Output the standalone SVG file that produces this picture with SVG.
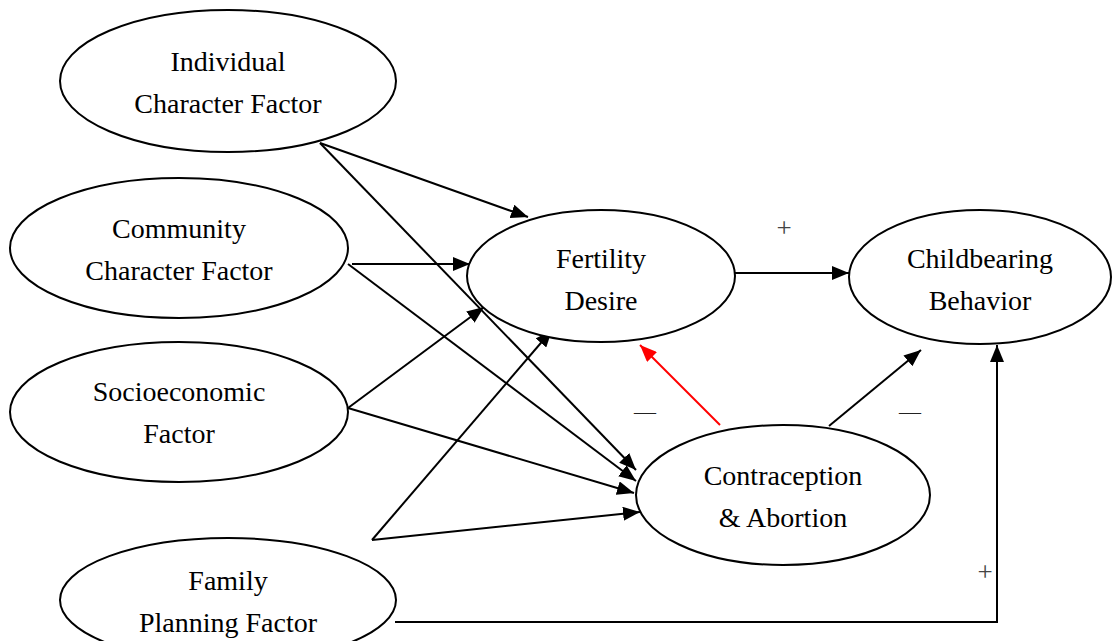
<svg xmlns="http://www.w3.org/2000/svg" width="1113" height="641" viewBox="0 0 1113 641">
<style>
.node ellipse{fill:#fff;stroke:#000;stroke-width:2}
.node text{font-size:28px;fill:#000;text-anchor:middle}
.edge{fill:none;stroke:#000;stroke-width:2}
.red{stroke:#f00}
.plus{font-size:27px;fill:#444;text-anchor:middle}
.minus{font-size:22px;fill:#222;text-anchor:middle}
</style>
<defs>
<marker id="ah" markerUnits="userSpaceOnUse" markerWidth="18" markerHeight="14" refX="17" refY="7" orient="auto"><path d="M0,0 L17,7 L0,14 Z" fill="#000"/></marker>
<marker id="ahr" markerUnits="userSpaceOnUse" markerWidth="18" markerHeight="14" refX="17" refY="7" orient="auto"><path d="M0,0 L17,7 L0,14 Z" fill="#f00"/></marker>
</defs>
<g id="connectors">
<line class="edge" x1="320" y1="143" x2="528" y2="217" marker-end="url(#ah)"/>
<line class="edge" x1="320" y1="143" x2="636" y2="470" marker-end="url(#ah)"/>
<line class="edge" x1="352" y1="264" x2="470" y2="264" marker-end="url(#ah)"/>
<line class="edge" x1="348" y1="264" x2="636" y2="481" marker-end="url(#ah)"/>
<line class="edge" x1="348" y1="408" x2="484" y2="307" marker-end="url(#ah)"/>
<line class="edge" x1="348" y1="408" x2="634" y2="493" marker-end="url(#ah)"/>
<line class="edge" x1="372" y1="540" x2="552" y2="330" marker-end="url(#ah)"/>
<line class="edge" x1="372" y1="540" x2="640" y2="512" marker-end="url(#ah)"/>
<line class="edge" x1="735" y1="273" x2="849" y2="273" marker-end="url(#ah)"/>
<line class="edge red" x1="720" y1="425" x2="640" y2="345" marker-end="url(#ahr)"/>
<line class="edge" x1="829" y1="426" x2="921" y2="350" marker-end="url(#ah)"/>
<polyline class="edge" points="395,622 997,622 997,345" marker-end="url(#ah)"/>
</g>
<g font-family="'Liberation Serif', 'Times New Roman', Times, serif">
<g id="n-individual" class="node"><ellipse cx="228" cy="81" rx="168" ry="71"/><text x="228" y="71">Individual</text><text x="228" y="113">Character Factor</text></g>
<g id="n-community" class="node"><ellipse cx="179" cy="248" rx="169" ry="70"/><text x="179" y="238">Community</text><text x="179" y="280">Character Factor</text></g>
<g id="n-socio" class="node"><ellipse cx="179" cy="412" rx="169" ry="70"/><text x="179" y="401">Socioeconomic</text><text x="179" y="443">Factor</text></g>
<g id="n-family" class="node"><ellipse cx="228" cy="600" rx="168" ry="62"/><text x="228" y="590">Family</text><text x="228" y="632">Planning Factor</text></g>
<g id="n-fertility" class="node"><ellipse cx="601" cy="276" rx="134" ry="66"/><text x="601" y="268">Fertility</text><text x="601" y="310">Desire</text></g>
<g id="n-childbearing" class="node"><ellipse cx="980" cy="277" rx="131" ry="67"/><text x="980" y="268">Childbearing</text><text x="980" y="310">Behavior</text></g>
<g id="n-contraception" class="node"><ellipse cx="783" cy="495" rx="147" ry="70"/><text x="783" y="485">Contraception</text><text x="783" y="527">&amp; Abortion</text></g>
<g id="labels">
<text class="plus" x="784" y="237">+</text>
<text class="minus" x="645" y="419">—</text>
<text class="minus" x="910" y="419">—</text>
<text class="plus" x="985" y="581">+</text>
</g>
</g>
</svg>
